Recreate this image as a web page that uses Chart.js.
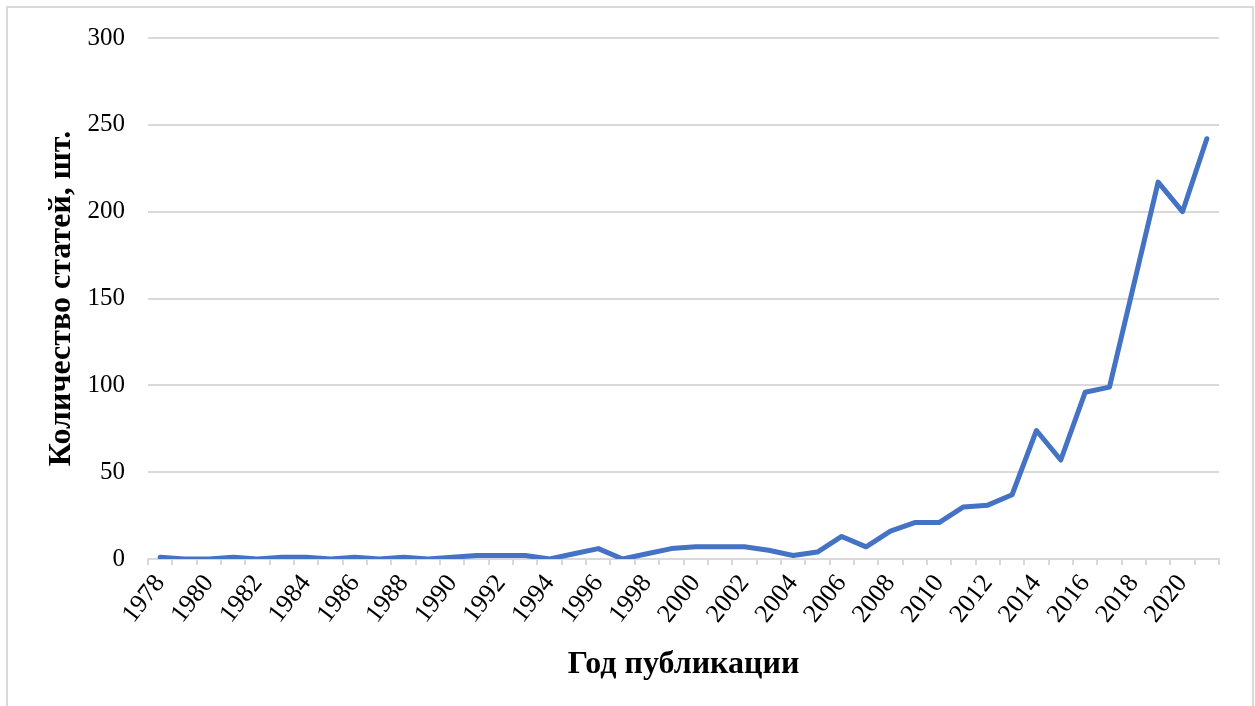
<!DOCTYPE html>
<html lang="ru">
<head>
<meta charset="utf-8">
<title>Количество статей по годам публикации</title>
<script src="https://cdn.jsdelivr.net/npm/chart.js@4/dist/chart.umd.min.js"></script>
<style>
  html, body { margin: 0; padding: 0; background: #ffffff; overflow: hidden; }
  #wrap { position: relative; width: 1255px; height: 706px; overflow: hidden; }
  #frame { position: absolute; left: 6px; top: 6px; right: 1px; bottom: -10px;
           border: 2px solid #d9d9d9; box-sizing: border-box; pointer-events: none; }
  canvas { position: absolute; left: 0; top: 0; }
</style>
</head>
<body>
<div id="wrap">
  <canvas id="chart" width="1255" height="706"></canvas>
  <div id="frame"></div>
</div>
<script>
// Publication years and number of articles per year
const years = [
  1978, 1979, 1980, 1981, 1982, 1983, 1984, 1985, 1986, 1987, 1988,
  1989, 1990, 1991, 1992, 1993, 1994, 1995, 1996, 1997, 1998, 1999,
  2000, 2001, 2002, 2003, 2004, 2005, 2006, 2007, 2008, 2009, 2010,
  2011, 2012, 2013, 2014, 2015, 2016, 2017, 2018, 2019, 2020, 2021
];
const articleCounts = [
  1, 0, 0, 1, 0, 1, 1, 0, 1, 0, 1,
  0, 1, 2, 2, 2, 0, 3, 6, 0, 3, 6,
  7, 7, 7, 5, 2, 4, 13, 7, 16, 21, 21,
  30, 31, 37, 74, 57, 96, 99, 158, 217, 200, 242
];
// Value axis ticks
const yTicks = [0, 50, 100, 150, 200, 250, 300];

const xTitle = 'Год публикации';
const yTitle = 'Количество статей, шт.';

const serif = '"Liberation Serif", "Times New Roman", "DejaVu Serif", serif';
const gridColor = '#d9d9d9';

new Chart(document.getElementById('chart'), {
  type: 'line',
  data: {
    labels: years.map(String),
    datasets: [{
      data: articleCounts,
      borderColor: '#4472C4',
      backgroundColor: '#4472C4',
      borderWidth: 5,
      borderJoinStyle: 'round',
      borderCapStyle: 'round',
      pointRadius: 0,
      pointHoverRadius: 0,
      tension: 0,
      fill: false
    }]
  },
  options: {
    responsive: false,
    animation: false,
    events: [],
    layout: { padding: { left: 20, right: 36, top: 37, bottom: 0 } },
    plugins: { legend: { display: false }, tooltip: { enabled: false } },
    scales: {
      x: {
        type: 'category',
        offset: true,
        grid: {
          display: true,
          offset: true,
          drawOnChartArea: false,
          drawTicks: true,
          tickLength: 6,
          color: gridColor,
          lineWidth: 2
        },
        border: { display: true, color: gridColor, width: 2 },
        ticks: {
          autoSkip: false,
          minRotation: 52,
          maxRotation: 52,
          padding: 4,
          color: '#000000',
          font: { family: serif, size: 26 },
          callback: function (value, index) {
            return index % 2 === 0 ? years[index] : '';
          }
        },
        title: {
          display: true,
          text: xTitle,
          color: '#000000',
          font: { family: serif, size: 32, weight: 'bold' },
          padding: { top: 0, bottom: 22 }
        },
        afterFit: function (scale) { scale.height = 706 - 559; }
      },
      y: {
        min: 0,
        max: 300,
        afterBuildTicks: function (scale) {
          scale.ticks = yTicks.map(v => ({ value: v }));
        },
        grid: {
          display: true,
          drawTicks: false,
          color: gridColor,
          lineWidth: 2
        },
        border: { display: false },
        ticks: {
          padding: 23,
          color: '#000000',
          font: { family: serif, size: 25 }
        },
        title: {
          display: true,
          text: yTitle,
          color: '#000000',
          font: { family: serif, size: 32, weight: 'bold' },
          padding: { top: 23, bottom: 0 }
        },
        afterFit: function (scale) { scale.width = 148 - 20; }
      }
    }
  }
});
</script>
</body>
</html>
